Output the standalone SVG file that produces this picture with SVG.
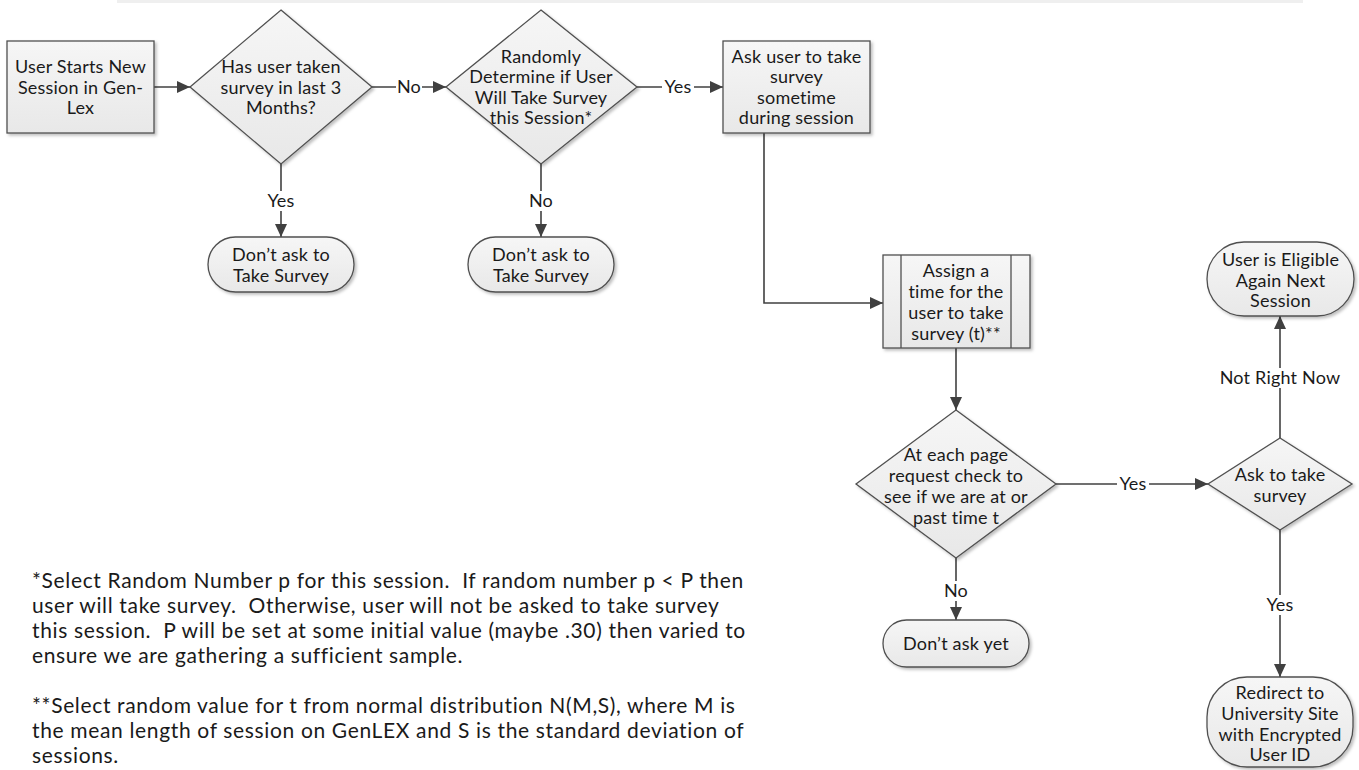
<svg xmlns="http://www.w3.org/2000/svg" width="1359" height="770" viewBox="0 0 1359 770">
<style>
.shape{fill:url(#g);stroke:#505050;stroke-width:1.3;filter:url(#sh)}
.t{font-family:Lato,"Open Sans","Liberation Sans",sans-serif;font-size:18px;letter-spacing:0.2px;fill:#1a1a1a;text-anchor:middle}
.fn{font-family:Lato,"Open Sans","Liberation Sans",sans-serif;font-size:21px;letter-spacing:0.65px;fill:#1a1a1a;white-space:pre}
.c{fill:none;stroke:#404040;stroke-width:1.6}
.lb{fill:#ffffff}
</style>
<defs>
<linearGradient id="g" x1="0" y1="0" x2="0" y2="1">
<stop offset="0" stop-color="#f6f6f6"/>
<stop offset="1" stop-color="#e8e8e8"/>
</linearGradient>
<filter id="sh" x="-10%" y="-10%" width="130%" height="130%">
<feDropShadow dx="2" dy="2" stdDeviation="1.5" flood-color="#000" flood-opacity="0.25"/>
</filter>
<marker id="a" markerUnits="userSpaceOnUse" markerWidth="14" markerHeight="12" refX="13" refY="6" orient="auto">
<path d="M0,0 L13,6 L0,12 Z" fill="#404040"/>
</marker>
</defs>
<rect x="117" y="0" width="1186" height="3" fill="#efefef"/>

<g id="connectors">
<line class="c" x1="154" y1="87" x2="190" y2="87" marker-end="url(#a)"/>
<line class="c" x1="372" y1="87" x2="446" y2="87" marker-end="url(#a)"/>
<line class="c" x1="281" y1="164" x2="281" y2="237" marker-end="url(#a)"/>
<line class="c" x1="637" y1="87" x2="723" y2="87" marker-end="url(#a)"/>
<line class="c" x1="541" y1="164" x2="541" y2="237" marker-end="url(#a)"/>
<polyline class="c" points="764,133 764,303 883,303" marker-end="url(#a)"/>
<line class="c" x1="956" y1="348" x2="956" y2="410" marker-end="url(#a)"/>
<line class="c" x1="1056" y1="484" x2="1208" y2="484" marker-end="url(#a)"/>
<line class="c" x1="956" y1="558" x2="956" y2="620" marker-end="url(#a)"/>
<line class="c" x1="1280" y1="438" x2="1280" y2="316" marker-end="url(#a)"/>
<line class="c" x1="1280" y1="530" x2="1280" y2="677" marker-end="url(#a)"/>
<rect class="lb" x="396" y="77" width="26" height="20"/>
<text class="t" x="409" y="93">No</text>
<rect class="lb" x="265" y="191" width="32" height="20"/>
<text class="t" x="281" y="207">Yes</text>
<rect class="lb" x="662" y="77" width="32" height="20"/>
<text class="t" x="678" y="93">Yes</text>
<rect class="lb" x="528" y="191" width="26" height="20"/>
<text class="t" x="541" y="207">No</text>
<rect class="lb" x="1117" y="474" width="32" height="20"/>
<text class="t" x="1133" y="490">Yes</text>
<rect class="lb" x="943" y="581" width="26" height="20"/>
<text class="t" x="956" y="597">No</text>
<rect class="lb" x="1220" y="368" width="120" height="20"/>
<text class="t" x="1280" y="384">Not Right Now</text>
<rect class="lb" x="1264" y="595" width="32" height="20"/>
<text class="t" x="1280" y="611">Yes</text>
</g>

<g id="start">
<rect class="shape" x="7" y="41" width="147" height="92"/>
<text class="t" x="80.5" y="73">User Starts New</text>
<text class="t" x="80.5" y="94">Session in Gen-</text>
<text class="t" x="80.5" y="114">Lex</text>
</g>

<g id="d1">
<polygon class="shape" points="281,10 372,87 281,164 190,87"/>
<text class="t" x="281" y="73">Has user taken</text>
<text class="t" x="281" y="94">survey in last 3</text>
<text class="t" x="281" y="114">Months?</text>
</g>

<g id="t1">
<rect class="shape" x="208" y="237" width="146" height="55" rx="27.5"/>
<text class="t" x="281" y="261">Don’t ask to</text>
<text class="t" x="281" y="282">Take Survey</text>
</g>

<g id="d2">
<polygon class="shape" points="541,10 637,87 541,164 446,87"/>
<text class="t" x="541" y="63">Randomly</text>
<text class="t" x="541" y="83">Determine if User</text>
<text class="t" x="541" y="104">Will Take Survey</text>
<text class="t" x="541" y="124">this Session*</text>
</g>

<g id="t2">
<rect class="shape" x="468" y="237" width="146" height="55" rx="27.5"/>
<text class="t" x="541" y="261">Don’t ask to</text>
<text class="t" x="541" y="282">Take Survey</text>
</g>

<g id="r2">
<rect class="shape" x="723" y="41" width="147" height="92"/>
<text class="t" x="796.5" y="63">Ask user to take</text>
<text class="t" x="796.5" y="83">survey</text>
<text class="t" x="796.5" y="104">sometime</text>
<text class="t" x="796.5" y="124">during session</text>
</g>

<g id="p">
<rect class="shape" x="883" y="255" width="147" height="93"/>
<line x1="901" y1="255" x2="901" y2="348" stroke="#505050" stroke-width="1.3"/>
<line x1="1011" y1="255" x2="1011" y2="348" stroke="#505050" stroke-width="1.3"/>
<text class="t" x="956" y="277">Assign a</text>
<text class="t" x="956" y="298">time for the</text>
<text class="t" x="956" y="319">user to take</text>
<text class="t" x="956" y="340">survey (t)**</text>
</g>

<g id="d3">
<polygon class="shape" points="956,410 1056,484 956,558 856,484"/>
<text class="t" x="956" y="461">At each page</text>
<text class="t" x="956" y="482">request check to</text>
<text class="t" x="956" y="503">see if we are at or</text>
<text class="t" x="956" y="524">past time t</text>
</g>

<g id="t3">
<rect class="shape" x="883" y="620" width="146" height="47" rx="23.5"/>
<text class="t" x="956" y="650">Don’t ask yet</text>
</g>

<g id="ask">
<polygon class="shape" points="1280,438 1352,484 1280,530 1208,484"/>
<text class="t" x="1280" y="481">Ask to take</text>
<text class="t" x="1280" y="502">survey</text>
</g>

<g id="eligible">
<rect class="shape" x="1207" y="242" width="147" height="74" rx="37"/>
<text class="t" x="1280.5" y="266">User is Eligible</text>
<text class="t" x="1280.5" y="287">Again Next</text>
<text class="t" x="1280.5" y="307">Session</text>
</g>

<g id="redirect">
<rect class="shape" x="1207" y="677" width="146" height="90" rx="40"/>
<text class="t" x="1280" y="699">Redirect to</text>
<text class="t" x="1280" y="720">University Site</text>
<text class="t" x="1280" y="741">with Encrypted</text>
<text class="t" x="1280" y="761">User ID</text>
</g>

<g id="footnotes">
<text class="fn" x="32" y="588">*Select Random Number p for this session.  If random number p &lt; P then</text>
<text class="fn" x="32" y="613">user will take survey.  Otherwise, user will not be asked to take survey</text>
<text class="fn" x="32" y="638">this session.  P will be set at some initial value (maybe .30) then varied to</text>
<text class="fn" x="32" y="663">ensure we are gathering a sufficient sample.</text>
<text class="fn" x="32" y="713">**Select random value for t from normal distribution N(M,S), where M is</text>
<text class="fn" x="32" y="738">the mean length of session on GenLEX and S is the standard deviation of</text>
<text class="fn" x="32" y="763">sessions.</text>
</g>
</svg>
